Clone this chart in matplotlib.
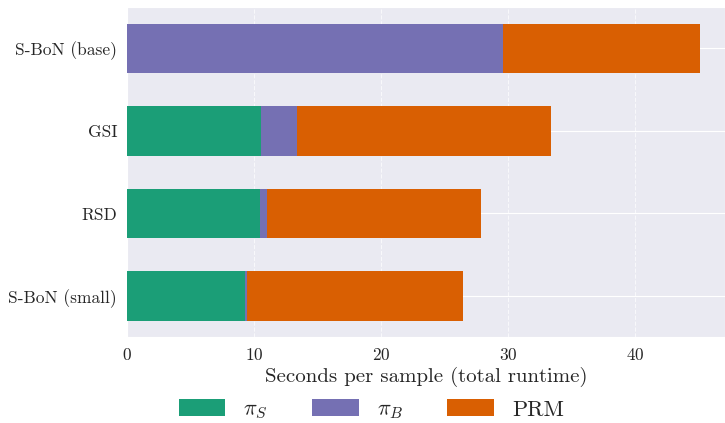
import numpy as np
import matplotlib
matplotlib.use("Agg")
import matplotlib.pyplot as plt
import seaborn as sns

# Runtime breakdown per method (seconds per sample)
methods = ["S-BoN (small)", "RSD", "GSI", "S-BoN (base)"]
pi_s = [9.3, 10.5, 10.6, 0.0]
pi_b = [0.15, 0.5, 2.8, 29.6]
prm = [17.05, 16.9, 20.0, 15.5]

labels = [r"$\pi_S$", r"$\pi_B$", "PRM"]
colors = ["#1b9e77", "#7570b3", "#d95f02"]

sns.set_style("darkgrid")
plt.rcParams['font.family'] = ['cmr10', 'DejaVu Serif']
plt.rcParams['mathtext.fontset'] = 'cm'
plt.rcParams['axes.formatter.use_mathtext'] = True

fig = plt.figure(figsize=(7.25, 4.23), dpi=100)
ax = fig.add_axes([0.175, 0.203, 0.825, 0.78])

y = np.arange(len(methods))
left = np.zeros(len(methods))
for vals, lab, col in zip([pi_s, pi_b, prm], labels, colors):
    ax.barh(y, vals, left=left, height=0.6, color=col, label=lab,
            linewidth=0, zorder=3)
    left += np.array(vals)

ax.set_yticks(y)
ax.set_yticklabels(methods, fontsize=12.5)
ax.set_ylim(-0.5, 3.5)
ax.set_xlim(0, 47.1)
ax.set_xticks([0, 10, 20, 30, 40])
ax.tick_params(axis='x', labelsize=12.5)
ax.xaxis.grid(True, linestyle='--', color='white', alpha=0.7, zorder=0)
ax.yaxis.grid(True, linestyle='-', color='white', zorder=0)
ax.set_xlabel("Seconds per sample (total runtime)", fontsize=15, labelpad=3)

handles, labs = ax.get_legend_handles_labels()
fig.legend(handles, labs, loc='center', bbox_to_anchor=(0.512, 0.03), ncol=3,
           frameon=False, fontsize=16, handlelength=2.1, handleheight=0.8,
           columnspacing=2.0)

fig.savefig("out.png", dpi=100)
